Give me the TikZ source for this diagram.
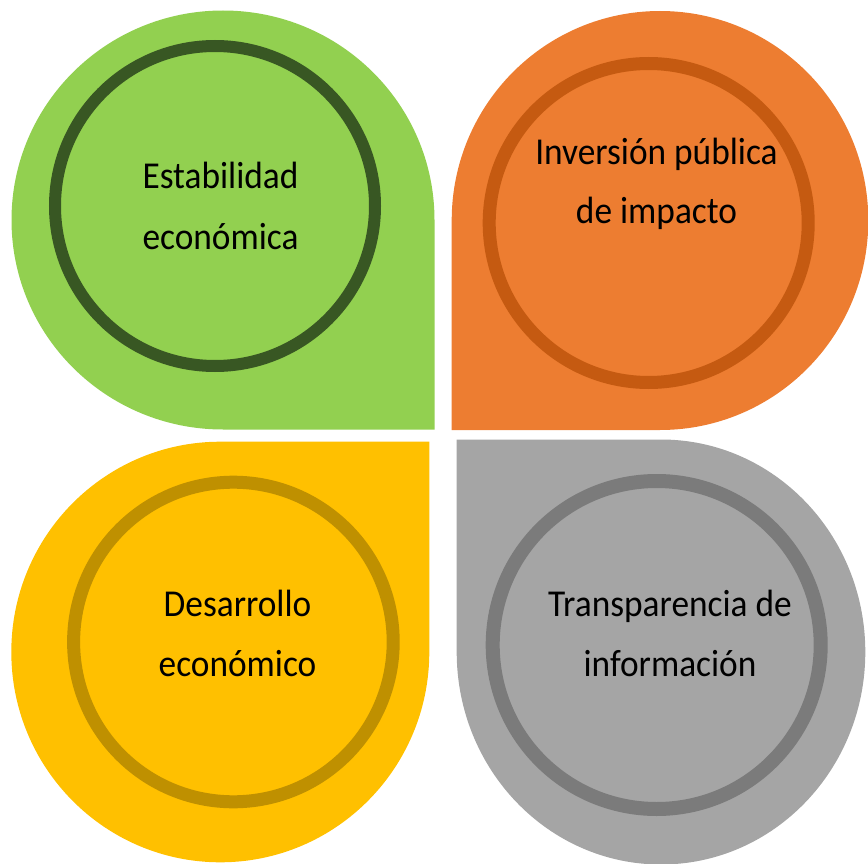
\documentclass[tikz,border=0pt]{standalone}
\usepackage{fontspec}
\setmainfont[FakeStretch=0.93]{Carlito}
\definecolor{gfill}{HTML}{92D050}
\definecolor{gring}{HTML}{385723}
\definecolor{ofill}{HTML}{ED7D31}
\definecolor{oring}{HTML}{C55A11}
\definecolor{yfill}{HTML}{FFC000}
\definecolor{yring}{HTML}{BF9000}
\definecolor{afill}{HTML}{A5A5A5}
\definecolor{aring}{HTML}{7B7B7B}
\tikzset{
  lbl/.style={anchor=base, inner sep=0pt, text=black, font=\fontsize{38}{59.5}\selectfont},
}
\begin{document}
\begin{tikzpicture}[x=1pt,y=-1pt]
\clip (0,0) rectangle (868,864);
% green teardrop (square corner bottom-right)
\fill[gfill] (434.5,220) -- (434.5,429.5) -- (223,429.5)
  arc[start angle=90, end angle=360, x radius=211.5, y radius=209.5] -- cycle;
% orange teardrop (square corner bottom-left)
\fill[ofill] (451.7,220.5) -- (451.7,430) -- (660,430)
  arc[start angle=90, end angle=-180, x radius=208.3, y radius=209.5] -- cycle;
% yellow teardrop (square corner top-right)
\fill[yfill] (220.3,441.7) -- (429.3,441.7) -- (429.3,652)
  arc[start angle=0, end angle=270, x radius=209, y radius=210.3] -- cycle;
% gray teardrop (square corner top-left)
\fill[afill] (456.7,652) -- (456.7,439.5) -- (661,439.5)
  arc[start angle=-90, end angle=180, x radius=204.3, y radius=212.5] -- cycle;
% rings
\draw[gring, line width=12pt] (215,206) circle[radius=160];
\draw[oring, line width=13pt] (648.7,223) circle[radius=159.5];
\draw[yring, line width=13pt] (233.4,642) circle[radius=159.8];
\draw[aring, line width=14pt] (656.7,645) circle[radius=164];
% labels
\node[lbl] (g1) at (220.5,189) {Estabilidad};
\node[lbl] (g2) at (220.5,249) {económica};
\node[lbl] (o1) at (656.5,165) {Inversión pública};
\node[lbl] (o2) at (656.5,223.3) {de impacto};
\node[lbl] (y1) at (237.5,616.7) {Desarrollo};
\node[lbl] (y2) at (237.5,676) {económico};
\node[lbl] (a1) at (670,616) {Transparencia de};
\node[lbl] (a2) at (670,676) {información};
\end{tikzpicture}
\end{document}
